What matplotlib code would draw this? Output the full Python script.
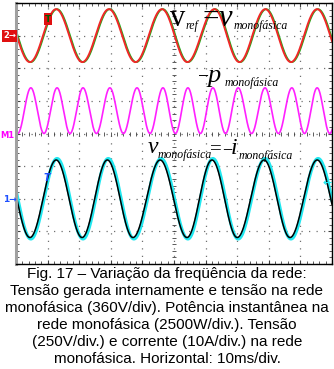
import numpy as np
import matplotlib
matplotlib.use('Agg')
import matplotlib.pyplot as plt

# scope settings (per division)
ch2_volts_per_div = 360.0      # top: v_ref / v_monofasica
math_watts_per_div = 2500.0    # M1: -p_monofasica
ch1_volts_per_div = 250.0      # bottom: v_monofasica
ch4_amps_per_div = 10.0        # bottom: -i_monofasica
ch2_offset_div = 3.0
math_offset_div = 0.0
ch1_offset_div = -2.0

# extrema (ms); first one is a trough
top_extrema_ms = [4.4, 12.7, 21.0, 29.4, 37.8, 46.2, 54.2, 62.8, 70.7, 78.9, 87.0, 95.3]
bottom_extrema_ms = [4.4, 12.7, 20.9, 28.9, 37.0, 45.6, 54.1, 62.0, 70.0, 78.5, 86.7, 95.3]
power_peaks_ms = [4.7, 13.0, 21.2, 29.7, 38.3, 46.5, 54.4, 62.3, 70.3, 78.8, 87.3, 95.3]

v_ref_peak = 292.0       # V
v_mono_peak = 297.0      # V
i_mono_peak = 12.3       # A
p_mono_peak = 3500.0     # W
current_lag_ms = 0.3
v_mono_top_lag_ms = 0.25

caption = ("Fig. 17 \u2013 Varia\u00e7\u00e3o da freq\u00fc\u00eancia da rede:\n"
           "Tens\u00e3o gerada internamente e tens\u00e3o na rede\n"
           "monof\u00e1sica (360V/div). Pot\u00eancia instant\u00e2nea na\n"
           "rede monof\u00e1sica (2500W/div.). Tens\u00e3o\n"
           "(250V/div.) e corrente (10A/div.) na rede\n"
           "monof\u00e1sica. Horizontal: 10ms/div.")


def trace(t, extrema, first_level):
    # half-cosine between consecutive extrema, levels alternate +-1
    e = list(extrema)
    e = [e[0] - (e[1] - e[0])] + e + [e[-1] + (e[-1] - e[-2])]
    lev = [first_level * (-1) ** (k - 1) for k in range(len(e))]
    y = np.zeros_like(t)
    for k in range(len(e) - 1):
        m = (t >= e[k]) & (t <= e[k + 1])
        ph = np.pi * (t[m] - e[k]) / (e[k + 1] - e[k])
        y[m] = (lev[k] + lev[k + 1]) / 2 + (lev[k] - lev[k + 1]) / 2 * np.cos(ph)
    return y


t = np.linspace(0, 100, 2000)
top_norm = trace(t, top_extrema_ms, -1)
top2_norm = trace(t - v_mono_top_lag_ms, top_extrema_ms, -1)
bot_norm = trace(t, bottom_extrema_ms, -1)
cur_norm = trace(t - current_lag_ms, bottom_extrema_ms, -1)
pow_norm = trace(t, power_peaks_ms, 1) ** 2

v_ref = v_ref_peak * top_norm
v_mono_top = v_ref_peak * top2_norm
v_mono = v_mono_peak * bot_norm
i_mono = i_mono_peak * cur_norm
p_mono = p_mono_peak * pow_norm

W, H = 334, 369
fig = plt.figure(figsize=(W / 100, H / 100), dpi=100)
ax = fig.add_axes([16 / W, 1 - 264 / H, 316 / W, 261 / H])


def fx(x):
    return x / W


def fy(y):
    return 1 - y / H


# traces
ax.plot(t, v_mono_top / ch2_volts_per_div + ch2_offset_div, color='#18b018', lw=1.3)
ax.plot(t, v_ref / ch2_volts_per_div + ch2_offset_div, color='#f02828', lw=1.4)
ax.plot(t, p_mono / math_watts_per_div + math_offset_div, color='#ff20ff', lw=1.2)
ax.plot(t, i_mono / ch4_amps_per_div + ch1_offset_div, color='#20e8f0', lw=2.4)
ax.plot(t, v_mono / ch1_volts_per_div + ch1_offset_div, color='black', lw=1.1)

ax.set_xlim(0, 100)
ax.set_ylim(-4, 4)
ax.set_xticks(np.arange(0, 101, 10))
ax.set_yticks(np.arange(-4, 5, 1))
ax.set_xticks(np.arange(0, 101, 2), minor=True)
ax.set_yticks(np.arange(-4, 4.01, 0.2), minor=True)
ax.tick_params(which='both', direction='in', top=True, right=True,
               labelleft=False, labelbottom=False, color='#404040')
ax.tick_params(which='major', length=3, width=0.8)
ax.tick_params(which='minor', length=2, width=0.6)
ax.grid(which='major', color='#707070', lw=0.9, linestyle=(0, (1, 5)))
ax.set_axisbelow(True)

# centre cross ticks
ax.plot(np.arange(0, 101, 2), np.zeros(51), ls='none', marker='|', ms=3,
        mew=0.6, color='#404040', zorder=1)
ax.plot(np.full(41, 50.0), np.arange(-4, 4.01, 0.2), ls='none', marker='_',
        ms=3, mew=0.6, color='#404040', zorder=1)

for s in ['top', 'right', 'bottom']:
    ax.spines[s].set_color('black')
    ax.spines[s].set_linewidth(1.0)
ax.spines['left'].set_color('#a0a0a0')
ax.spines['left'].set_linewidth(2.2)

# channel markers
fig.text(fx(3), fy(36), '2\u2192', color='white', fontsize=6, fontweight='bold',
         va='center', bbox=dict(boxstyle='square,pad=0.15', fc='#e01010', ec='none'))
fig.text(fx(48), fy(19), 'T', color='#006000', fontsize=6.5, fontweight='bold',
         ha='center', va='center', bbox=dict(boxstyle='square,pad=0.15', fc='#e01010', ec='none'))
fig.text(fx(0), fy(135), 'M1', color='#ff00ff', fontsize=6, fontweight='bold', va='center')
fig.text(fx(3), fy(199), '1\u2192', color='#1e50ff', fontsize=6.5, fontweight='bold', va='center')
fig.text(fx(47), fy(178), 'T', color='#1e50ff', fontsize=7, fontweight='bold',
         style='italic', ha='center', va='center')
fig.text(fx(327), fy(183), '\u2190', color='#20e8f0', fontsize=8, fontweight='bold',
         ha='center', va='center')

# equations (Times-like italic pieces)
serif = 'Liberation Serif'


def piece(x, y, s, size, style='italic'):
    fig.text(fx(x), fy(y), s, fontsize=size, family=serif, style=style, va='baseline')


piece(170, 26, 'v', 22, 'normal')
piece(186, 29, 'ref', 8.5)
piece(203, 25, '=', 21, 'normal')
piece(219, 26, 'v', 22)
piece(234, 29, 'monof\u00e1sica', 8.5)

piece(198, 82, '\u2212', 14, 'normal')
piece(208, 82, 'p', 19)
piece(225, 86, 'monof\u00e1sica', 8.5)

piece(148, 153, 'v', 17)
piece(158, 158, 'monof\u00e1sica', 8.5)
piece(210, 154, '=', 15, 'normal')
piece(222, 154, '\u2212', 13, 'normal')
piece(231, 154, 'i', 17)
piece(239, 159, 'monof\u00e1sica', 8.5)

fig.text(0.5, fy(267), caption, ha='center', va='top', fontsize=11,
         family='Liberation Sans', linespacing=1.28)

fig.savefig('out.png', dpi=100)
